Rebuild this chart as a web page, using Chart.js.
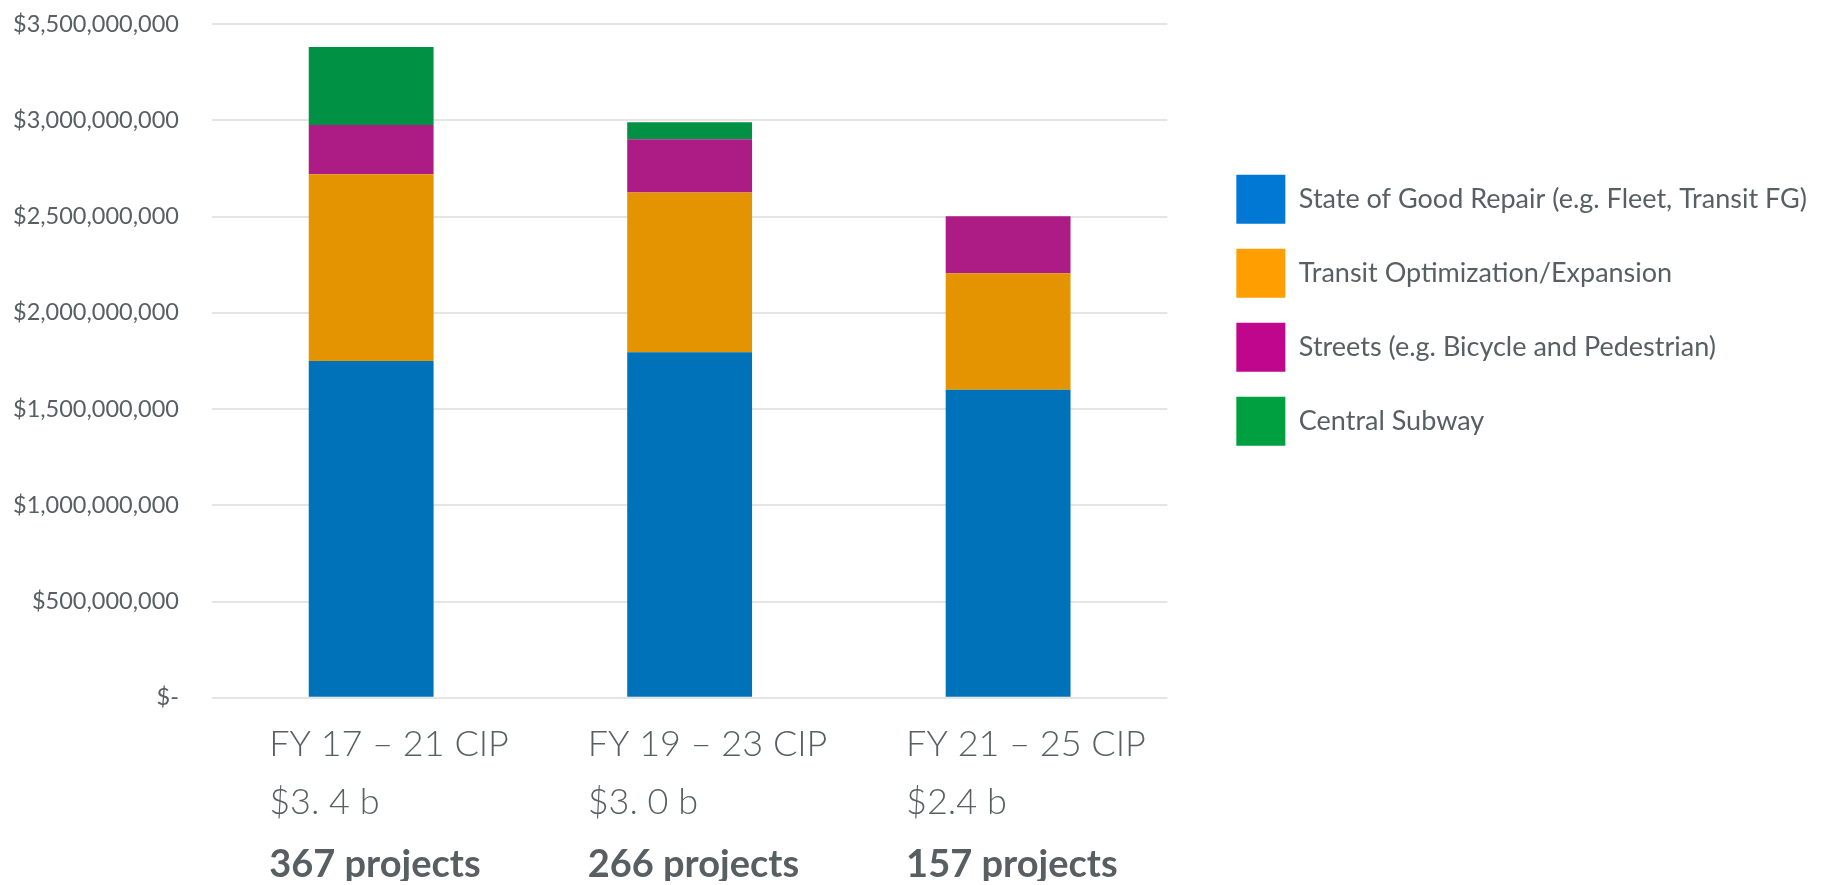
<!DOCTYPE html>
<html>
<head>
<meta charset="utf-8">
<script src="https://cdn.jsdelivr.net/npm/chart.js@4/dist/chart.umd.min.js"></script>
<style>
  body { margin: 0; background: #fff; }
  #wrap { width: 1827px; height: 885px; position: relative; }
</style>
</head>
<body>
<div id="wrap"><canvas id="barCanvas"></canvas></div>
<script>
// categories (two lines each) and the bold project count under them
const periods = [["FY 17 \u2013 21 CIP", "$3. 4 b"], ["FY 19 \u2013 23 CIP", "$3. 0 b"], ["FY 21 \u2013 25 CIP", "$2.4 b"]];
const projects = ["367 projects", "266 projects", "157 projects"];

// values, in dollars
const goodRepair = [1750000000, 1795000000, 1600000000];
const transitOpt = [970000000, 830000000, 605000000];
const streets = [255000000, 276000000, 297000000];
const centralSubway = [406000000, 89000000, 0];

const seriesNames = ["State of Good Repair (e.g. Fleet, Transit FG)", "Transit Optimization/Expansion", "Streets (e.g. Bicycle and Pedestrian)", "Central Subway"];
const barColors = ["#0072BA", "#E39400", "#AD1C84", "#009145"];
const legendColors = ["#0078D4", "#FF9E00", "#C0068C", "#00A040"];

const textColor = "#585F62";
const gridColor = "#E5E5E5";

// the labels may hang outside the plot, so the axes ask for no extra room
const noSidePadding = (scale) => { scale.paddingLeft = 0; };
const noTopPadding = (scale) => { scale.paddingTop = 0; };

const printGraph = () => {
    const barCanvas = document.getElementById("barCanvas");
    const values = [goodRepair, transitOpt, streets, centralSubway];

    new Chart(barCanvas, {
        type: "bar",
        data: {
            labels: periods,
            datasets: values.map((v, i) => ({
                label: seriesNames[i],
                data: v,
                backgroundColor: barColors[i],
                borderWidth: 0,
                categoryPercentage: 0.8,
                barPercentage: 0.49
            }))
        },
        options: {
            responsive: true,
            maintainAspectRatio: false,
            animation: false,
            layout: { padding: { top: 24, left: -20, right: 10, bottom: 4 } },
            plugins: {
                tooltip: { enabled: false },
                legend: {
                    position: "right",
                    align: "start",
                    maxWidth: 700,
                    title: { display: true, text: " ", padding: { top: 121, bottom: 0 }, font: { size: 4 } },
                    labels: {
                        boxWidth: 49,
                        boxHeight: 49,
                        padding: 25,
                        color: textColor,
                        font: { family: "Lato", size: 27 },
                        generateLabels: (chart) => chart.data.datasets.map((ds, i) => ({
                            text: ds.label,
                            fillStyle: legendColors[i],
                            strokeStyle: legendColors[i],
                            lineWidth: 0,
                            fontColor: textColor,
                            datasetIndex: i
                        }))
                    },
                    onClick: () => {}
                }
            },
            scales: {
                x: {
                    stacked: true,
                    weight: 0,
                    afterFit: noSidePadding,
                    grid: { display: false, drawTicks: false },
                    border: { display: false },
                    ticks: {
                        color: textColor,
                        padding: 18,
                        align: "start",
                        labelOffset: -102,
                        font: { family: "Lato", size: 36, weight: 300, lineHeight: 1.6 }
                    }
                },
                x2: {
                    type: "category",
                    axis: "x",
                    position: "bottom",
                    weight: 1,
                    offset: true,
                    labels: projects,
                    afterFit: noSidePadding,
                    grid: { display: false, drawTicks: false },
                    border: { display: false },
                    ticks: {
                        color: textColor,
                        padding: -3,
                        align: "start",
                        labelOffset: -102,
                        font: { family: "Lato", size: 38, weight: "bold", lineHeight: 1.0 }
                    }
                },
                y: {
                    stacked: true,
                    min: 0,
                    max: 3500000000,
                    afterFit: noTopPadding,
                    border: { display: false },
                    grid: { color: gridColor, lineWidth: 2, drawTicks: false },
                    ticks: {
                        stepSize: 500000000,
                        padding: 33,
                        color: textColor,
                        font: { family: "Lato", size: 23.5 },
                        callback: (v) => v === 0 ? "$-" : "$" + v.toLocaleString("en-US")
                    }
                },
                // empty axis that keeps a gap between the plot and the legend
                gap: {
                    type: "linear",
                    position: "right",
                    afterFit: (scale) => { scale.width = 44; scale.paddingTop = 0; },
                    grid: { display: false, drawTicks: false },
                    border: { display: false },
                    ticks: { display: false }
                }
            }
        }
    });
};

printGraph();
</script>
</body>
</html>
